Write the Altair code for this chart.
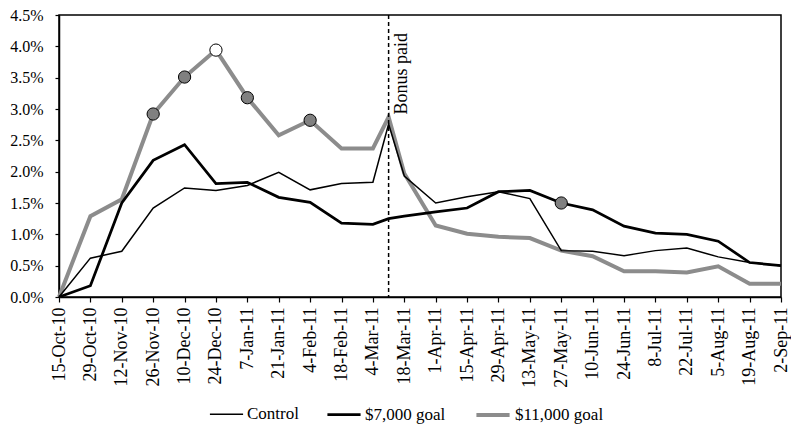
import altair as alt
import pandas as pd

# ---- data ----
dates = ["2010-10-15", "2010-10-29", "2010-11-12", "2010-11-26", "2010-12-10", "2010-12-24",
         "2011-01-07", "2011-01-21", "2011-02-04", "2011-02-18", "2011-03-04", "2011-03-11",
         "2011-03-18", "2011-04-01", "2011-04-15", "2011-04-29", "2011-05-13", "2011-05-27",
         "2011-06-10", "2011-06-24", "2011-07-08", "2011-07-22", "2011-08-05", "2011-08-19",
         "2011-09-02"]
control = [0.0, 0.62, 0.73, 1.42, 1.74, 1.70, 1.78, 1.99, 1.71, 1.81, 1.83, 2.76,
           1.93, 1.50, 1.60, 1.68, 1.57, 0.74, 0.73, 0.66, 0.74, 0.78, 0.64, 0.55, 0.50]
goal7k = [0.0, 0.18, 1.50, 2.18, 2.43, 1.81, 1.83, 1.59, 1.51, 1.18, 1.16, 1.25,
          1.29, 1.36, 1.42, 1.68, 1.70, 1.50, 1.39, 1.13, 1.02, 1.00, 0.89, 0.55, 0.50]
goal11k = [0.0, 1.29, 1.56, 2.92, 3.51, 3.94, 3.18, 2.58, 2.82, 2.37, 2.37, 2.87,
           1.97, 1.14, 1.01, 0.96, 0.94, 0.74, 0.65, 0.41, 0.41, 0.39, 0.49, 0.21, 0.21]
series_names = ["Control", "$7,000 goal", "$11,000 goal"]
tick_dates = [d for d in dates if d != "2011-03-11"]
bonus_date = "2011-03-11"
# markers: (series, date, fill)
markers = [("$11,000 goal", "2010-11-26", "#808080"),
           ("$11,000 goal", "2010-12-10", "#808080"),
           ("$11,000 goal", "2010-12-24", "#ffffff"),
           ("$11,000 goal", "2011-01-07", "#808080"),
           ("$11,000 goal", "2011-02-04", "#808080"),
           ("$7,000 goal", "2011-05-27", "#808080")]

vals = {"Control": control, "$7,000 goal": goal7k, "$11,000 goal": goal11k}
rows = []
for s in ["$11,000 goal", "$7,000 goal", "Control"]:
    for d, v in zip(dates, vals[s]):
        rows.append({"date": d, "value": v / 100.0, "series": s})
df = pd.DataFrame(rows)

mrows = []
for s, d, f in markers:
    mrows.append({"date": d, "value": vals[s][dates.index(d)] / 100.0, "fill": f})
mdf = pd.DataFrame(mrows)

tick_ms = [int(pd.Timestamp(d, tz="UTC").timestamp() * 1000) for d in tick_dates]
start_ms = tick_ms[0]
end_ms = tick_ms[-1]

FONT = "Liberation Serif"

xscale = alt.Scale(type="utc", domain=[start_ms, end_ms], nice=False, padding=0)
xaxis = alt.Axis(values=tick_ms, labelExpr="utcFormat(datum.value, '%-d-%b-%y')", labelAngle=-90,
                 labelFontSize=18, labelFont=FONT, labelColor="black",
                 tickSize=5, tickColor="black", tickWidth=1.2, labelPadding=5,
                 domainColor="black", domainWidth=1.5, grid=False, title=None,
                 labelOverlap=False, labelBound=False, labelFlush=False)
yscale = alt.Scale(domain=[0, 0.045], nice=False, zero=True)
yaxis = alt.Axis(values=[round(i * 0.005, 3) for i in range(10)], format=".1%",
                 labelFontSize=16, labelFont=FONT, labelColor="black",
                 tickSize=4, tickColor="black", tickWidth=1.2, labelPadding=12,
                 domainColor="black", domainWidth=1.5, grid=False, title=None)


def X():
    return alt.X("date:T", scale=xscale, axis=xaxis)


def Y():
    return alt.Y("value:Q", scale=yscale, axis=yaxis)


leg = dict(orient="none", legendX=150, legendY=381, direction="horizontal",
           symbolType="stroke", symbolSize=1100, labelFontSize=17,
           labelFont=FONT, labelColor="black", columnPadding=22,
           labelOffset=3, symbolOpacity=1)

lines = alt.Chart(df).mark_line(strokeJoin="miter").encode(
    x=X(),
    y=Y(),
    color=alt.Color("series:N", scale=alt.Scale(domain=series_names, range=["#000000", "#000000", "#8c8c8c"]),
                    title=None, legend=alt.Legend(**leg)),
    strokeWidth=alt.StrokeWidth("series:N", scale=alt.Scale(domain=series_names, range=[1.5, 4, 4]),
                                title=None, legend=alt.Legend(**leg)),
    detail="series:N",
)

pts = alt.Chart(mdf).mark_point(shape="circle", filled=True, size=150, stroke="black", strokeWidth=1,
                                opacity=1).encode(
    x=X(),
    y=Y(),
    fill=alt.Fill("fill:N", scale=None, legend=None),
)

rule_df = pd.DataFrame({"date": [bonus_date]})
rule = alt.Chart(rule_df).mark_rule(color="black", strokeDash=[4, 3], strokeWidth=1.5).encode(
    x=X(),
)
label = alt.Chart(pd.DataFrame({"date": [bonus_date], "text": ["Bonus paid"]})).mark_text(
    angle=270, align="right", baseline="middle", font=FONT, fontSize=18, dx=0, dy=13, color="black"
).encode(
    x=X(),
    y=alt.value(18),
    text="text:N",
)

chart = alt.layer(lines, rule, label, pts).properties(
    width=722, height=282,
    padding={"left": 51, "top": 7, "right": 10, "bottom": 128},
    autosize=alt.AutoSizeParams(type="none"),
).configure(font=FONT).configure_view(stroke="black", strokeWidth=1.5).configure_axis(
    labelFont=FONT).configure_legend(labelFont=FONT, labelFontSize=17, labelColor="black")

chart.save("out.html", embed_options={"renderer": "svg", "actions": False})
